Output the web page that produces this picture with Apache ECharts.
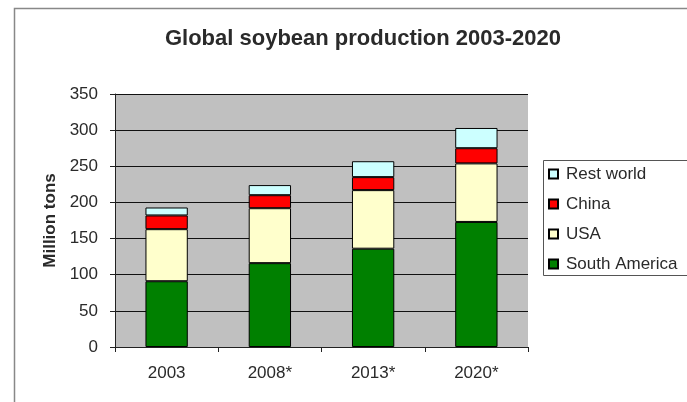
<!DOCTYPE html>
<html><head><meta charset="utf-8">
<script src="https://cdn.jsdelivr.net/npm/echarts@6/dist/echarts.min.js"></script>
<style>html,body{margin:0;padding:0;background:#fff}#c{width:687px;height:402px}</style>
</head><body><div id="c"></div>
<script>
const categories = ['2003', '2008*', '2013*', '2020*'];
const southAmerica = [91, 116, 136, 173];
const usa = [72, 76, 81, 81];
const china = [19, 18, 18, 21];
const restWorld = [11, 14, 22, 28];
const yTicks = [0, 50, 100, 150, 200, 250, 300, 350];

const chart = echarts.init(document.getElementById('c'));
const font = 'Liberation Sans, Arial, sans-serif';
const txt = '#2a2a2a';
function s(name, data, color) {
  return { name, type: 'bar', stack: 'a', data, barWidth: '41%',
    itemStyle: { color, borderColor: '#000', borderWidth: 1 } };
}
chart.setOption({
  animation: false,
  backgroundColor: '#fff',
  title: { text: 'Global soybean production 2003-2020', left: 358, top: 23, textAlign: 'center',
    textStyle: { fontFamily: font, fontSize: 22, fontWeight: 'bold', color: txt } },
  graphic: [
    { type: 'rect', shape: { x: 14.5, y: 8.5, width: 700, height: 420 }, style: { fill: 'none', stroke: '#888', lineWidth: 1.5 }, z: -1 },
    { type: 'rect', shape: { x: 543.5, y: 160.5, width: 160, height: 115 }, style: { fill: '#fff', stroke: '#555', lineWidth: 1 }, z: 0 }
  ],
  legend: {
    data: ['Rest world', 'China', 'USA', 'South America'],
    orient: 'vertical', left: 548, top: 165, itemGap: 12, itemWidth: 9, itemHeight: 9,
    icon: 'rect', padding: 0,
    textStyle: { fontFamily: font, fontSize: 17, lineHeight: 18, color: txt, padding: [0, 0, 0, 3] },
    z: 5
  },
  grid: { left: 115, right: 159, top: 94, bottom: 55, show: true, backgroundColor: '#c0c0c0', borderWidth: 0 },
  xAxis: { type: 'category', data: categories,
    axisLine: { lineStyle: { color: '#222' } },
    axisTick: { show: true, length: 5, lineStyle: { color: '#222' } },
    axisLabel: { fontFamily: font, fontSize: 17, color: txt, margin: 18 } },
  yAxis: { type: 'value', min: 0, max: 350, interval: 50,
    name: 'Million tons', nameLocation: 'middle', nameGap: 55,
    nameTextStyle: { fontFamily: font, fontSize: 17, fontWeight: 'bold', color: txt },
    axisLine: { show: true, lineStyle: { color: '#222' } },
    axisTick: { show: true, length: 5, lineStyle: { color: '#222' } },
    axisLabel: { fontFamily: font, fontSize: 17, color: txt, margin: 17,
      formatter: v => yTicks.includes(v) ? String(v) : '' },
    splitLine: { lineStyle: { color: '#111', width: 1 } } },
  series: [
    s('South America', southAmerica, '#008000'),
    s('USA', usa, '#ffffcc'),
    s('China', china, '#ff0000'),
    s('Rest world', restWorld, '#ccffff')
  ]
});
</script></body></html>
